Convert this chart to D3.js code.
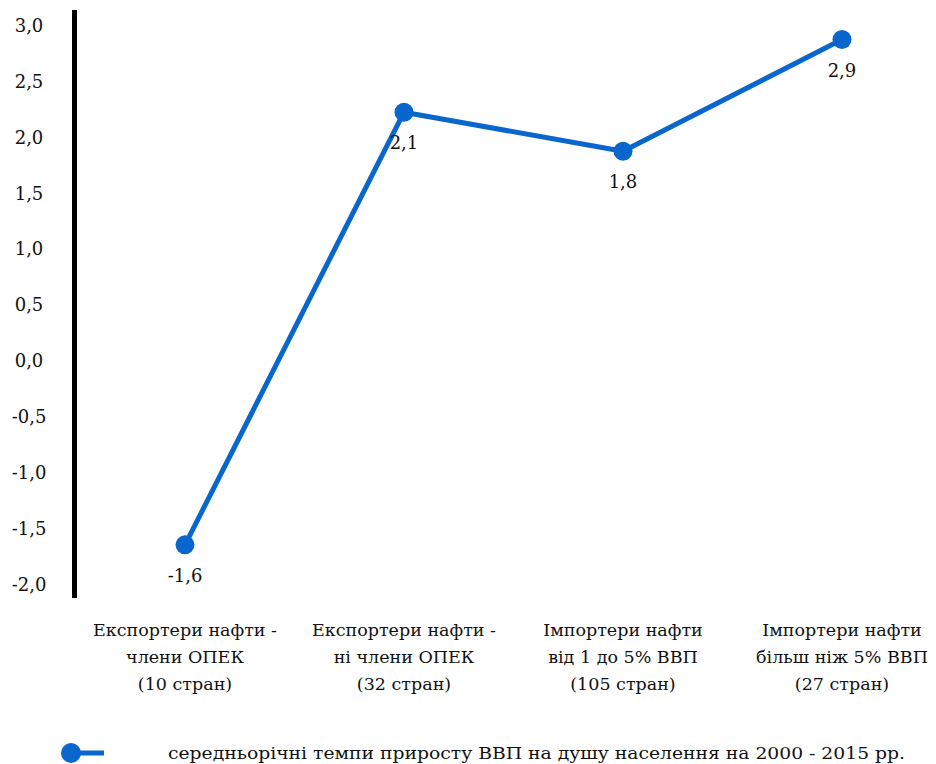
<!DOCTYPE html>
<html lang="uk">
<head>
<meta charset="utf-8">
<script src="https://cdn.jsdelivr.net/npm/d3@7"></script>
</head>
<body style="margin:0">
<svg id="chart" width="936" height="764"></svg>
<script>
const categories = [
  ["Експортери нафти -", "члени ОПЕК", "(10 стран)"],
  ["Експортери нафти -", "ні члени ОПЕК", "(32 стран)"],
  ["Імпортери нафти", "від 1 до 5% ВВП", "(105 стран)"],
  ["Імпортери нафти", "більш ніж 5% ВВП", "(27 стран)"]
];
const values = [-1.65, 2.22, 1.87, 2.87];
const valueLabels = ["-1,6", "2,1", "1,8", "2,9"];
const yTicks = [3.0, 2.5, 2.0, 1.5, 1.0, 0.5, 0.0, -0.5, -1.0, -1.5, -2.0];
const seriesName = "середньорічні темпи приросту ВВП на душу населення на 2000 - 2015 рр.";

const color = "#0866CC";
const FONT = '"DejaVu Serif"';
const svg = d3.select("#chart");

const x = d3.scalePoint()
  .domain(d3.range(categories.length))
  .range([185, 842])
  .padding(0);

const y = d3.scaleLinear()
  .domain([-2, 3])
  .range([584, 25]);

const fmt = v => d3.format(".1f")(v).replace(".", ",").replace("−", "-");

// y axis tick labels
const yAxis = d3.axisLeft(y)
  .tickValues(yTicks)
  .tickSize(0)
  .tickFormat(fmt);

const gy = svg.append("g").attr("transform", "translate(29,0)").call(yAxis);
gy.attr("font-family", null).attr("font-size", null);
gy.select(".domain").remove();
gy.selectAll("text")
  .attr("x", 0)
  .attr("text-anchor", "middle")
  .attr("dy", "0.35em")
  .attr("fill", "#111")
  .style("font-family", FONT)
  .attr("font-size", 18);

// thick vertical axis line
svg.append("line")
  .attr("x1", 74.5).attr("x2", 74.5)
  .attr("y1", y(3) - 15).attr("y2", y(-2) + 14)
  .attr("stroke", "#000")
  .attr("stroke-width", 5);

// series line
const line = d3.line()
  .x((d, i) => x(i))
  .y(d => y(d));

svg.append("path")
  .datum(values)
  .attr("d", line)
  .attr("fill", "none")
  .attr("stroke", color)
  .attr("stroke-width", 5)
  .attr("stroke-linejoin", "round");

svg.selectAll("circle.pt")
  .data(values)
  .join("circle")
  .attr("class", "pt")
  .attr("cx", (d, i) => x(i))
  .attr("cy", d => y(d))
  .attr("r", 9.5)
  .attr("fill", color);

// data labels
svg.selectAll("text.dl")
  .data(values)
  .join("text")
  .attr("class", "dl")
  .attr("x", (d, i) => x(i))
  .attr("y", d => y(d) + 37)
  .attr("text-anchor", "middle")
  .attr("fill", "#111")
  .style("font-family", FONT)
  .attr("font-size", 18)
  .text((d, i) => valueLabels[i]);

// category labels
const catG = svg.selectAll("g.cat")
  .data(categories)
  .join("g")
  .attr("class", "cat")
  .attr("transform", (d, i) => `translate(${x(i)},0)`);

catG.selectAll("text")
  .data(d => d)
  .join("text")
  .attr("x", 0)
  .attr("y", (d, j) => 636 + j * 27)
  .attr("text-anchor", "middle")
  .attr("fill", "#111")
  .style("font-family", FONT)
  .attr("font-size", 17.5)
  .text(d => d);

// legend
const lg = svg.append("g").attr("transform", "translate(0,753)");
lg.append("line")
  .attr("x1", 70).attr("x2", 104)
  .attr("y1", 0).attr("y2", 0)
  .attr("stroke", color).attr("stroke-width", 5);
lg.append("circle")
  .attr("cx", 71).attr("cy", 0).attr("r", 10).attr("fill", color);
lg.append("text")
  .attr("x", 168).attr("y", 6)
  .attr("fill", "#111")
  .style("font-family", FONT)
  .attr("font-size", 17.5)
  .attr("textLength", 737)
  .attr("lengthAdjust", "spacingAndGlyphs")
  .text(seriesName);
</script>
</body>
</html>
